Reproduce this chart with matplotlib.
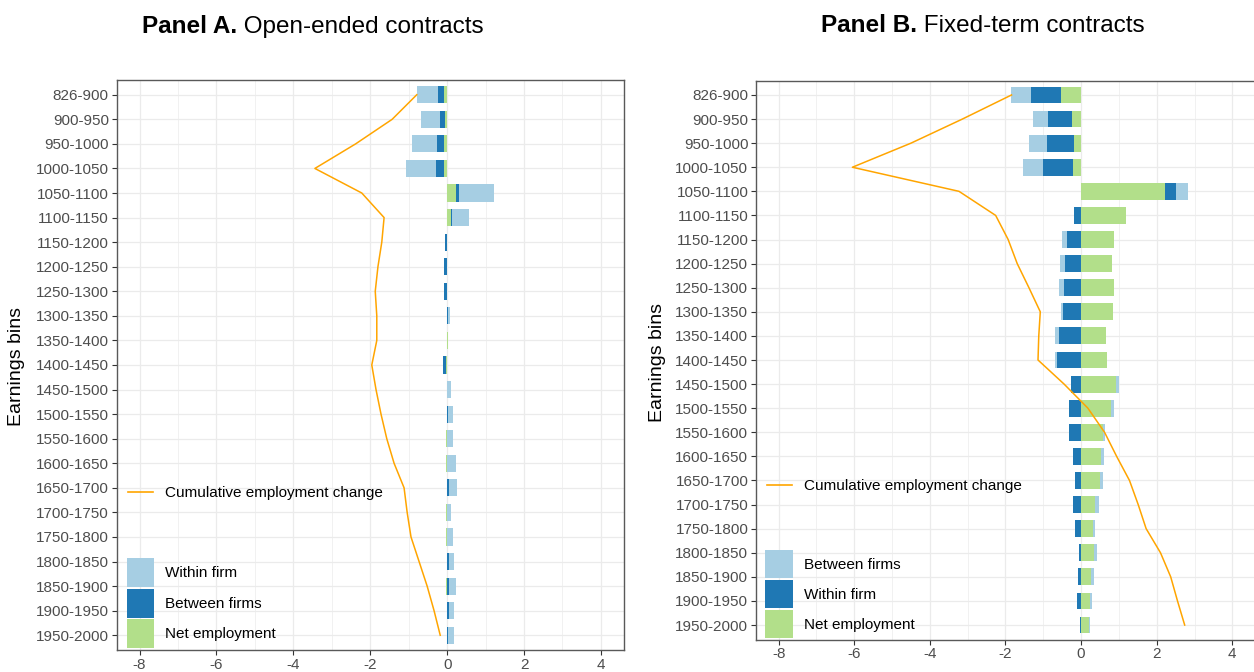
import matplotlib
matplotlib.use('Agg')
import matplotlib.pyplot as plt
from matplotlib import font_manager
from matplotlib.patches import Patch
from matplotlib.lines import Line2D
import numpy as np

plt.rcParams['font.family'] = ['Liberation Sans', 'DejaVu Sans']
plt.rcParams['axes.unicode_minus'] = False

bins = ['826-900', '900-950', '950-1000', '1000-1050', '1050-1100', '1100-1150',
        '1150-1200', '1200-1250', '1250-1300', '1300-1350', '1350-1400', '1400-1450',
        '1450-1500', '1500-1550', '1550-1600', '1600-1650', '1650-1700', '1700-1750',
        '1750-1800', '1800-1850', '1850-1900', '1900-1950', '1950-2000']

# Panel A: open-ended contracts
open_within = [-0.55, -0.49, -0.64, -0.77, 0.92, 0.43, 0.00, -0.01, 0.00, 0.07, 0.00, 0.00,
               0.10, 0.11, 0.15, 0.22, 0.22, 0.10, 0.15, 0.15, 0.20, 0.15, 0.16]
open_between = [-0.16, -0.13, -0.19, -0.21, 0.06, 0.04, -0.06, -0.07, -0.07, 0.01, 0.00, -0.07,
                0.00, 0.03, 0.00, 0.00, 0.04, 0.00, 0.00, 0.04, 0.04, 0.04, 0.01]
open_net = [-0.07, -0.05, -0.08, -0.08, 0.24, 0.09, 0.00, 0.00, 0.00, 0.00, 0.03, -0.03,
            0.00, 0.00, -0.03, -0.03, 0.00, -0.03, -0.04, 0.00, -0.02, 0.00, 0.00]
open_cum = [-0.79, -1.43, -2.38, -3.44, -2.22, -1.64, -1.70, -1.80, -1.87, -1.83, -1.83, -1.96,
            -1.85, -1.72, -1.57, -1.38, -1.12, -1.04, -0.94, -0.73, -0.52, -0.34, -0.18]

# Panel B: fixed-term contracts
fixed_between = [-0.52, -0.40, -0.46, -0.55, 0.34, 0.00, -0.13, -0.14, -0.12, -0.05, -0.10, -0.05,
                 0.08, 0.07, 0.05, 0.07, 0.08, 0.12, 0.06, 0.08, 0.08, 0.07, 0.03]
fixed_within = [-0.80, -0.62, -0.71, -0.79, 0.29, -0.19, -0.38, -0.42, -0.46, -0.48, -0.58, -0.64,
                -0.27, -0.31, -0.33, -0.22, -0.17, -0.21, -0.17, -0.05, -0.07, -0.12, -0.04]
fixed_net = [-0.53, -0.25, -0.20, -0.21, 2.21, 1.20, 0.86, 0.82, 0.86, 0.85, 0.65, 0.68,
             0.92, 0.79, 0.58, 0.53, 0.49, 0.36, 0.32, 0.34, 0.26, 0.23, 0.21]
fixed_cum = [-1.84, -3.14, -4.50, -6.05, -3.23, -2.26, -1.93, -1.69, -1.38, -1.08, -1.12, -1.14,
             -0.45, 0.18, 0.62, 0.94, 1.28, 1.51, 1.72, 2.10, 2.37, 2.55, 2.74]

LIGHT = '#A6CEE3'
DARK = '#1F78B4'
GREEN = '#B2DF8A'
ORANGE = '#FFA500'

W, H = 1254, 672
fig = plt.figure(figsize=(W / 100, H / 100), dpi=100)

try:
    font_manager.findfont('Liberation Sans Narrow', fallback_to_default=False)
    title_font = 'Liberation Sans Narrow'
    title_size = 21
except Exception:
    title_font = 'Liberation Sans'
    title_size = 17.5


def px_axes(left, right, top, bottom):
    return fig.add_axes([left / W, 1 - bottom / H, (right - left) / W, (bottom - top) / H])


def draw_panel(ax, series, colors, cum):
    y = np.arange(len(bins))
    pos = np.zeros(len(bins))
    neg = np.zeros(len(bins))
    # stack outward from zero: net first, then dark, then light
    for vals, c in zip(series, colors):
        v = np.array(vals)
        base = np.where(v >= 0, pos, neg)
        ax.barh(y, v, left=base, height=0.7, color=c, linewidth=0, zorder=2)
        pos = pos + np.where(v >= 0, v, 0)
        neg = neg + np.where(v < 0, v, 0)
    ax.plot(cum, y, color=ORANGE, lw=1.1, zorder=3)

    ax.set_xlim(-8.6, 4.6)
    ax.set_ylim(len(bins) - 0.4, -0.6)
    ax.set_yticks(y)
    ax.set_yticklabels(bins)
    ax.set_xticks(np.arange(-8, 5, 2))
    ax.set_xticklabels([str(v) for v in range(-8, 5, 2)])
    ax.set_xticks(np.arange(-7, 4, 2), minor=True)
    ax.set_axisbelow(True)
    ax.grid(True, which='major', color='#EBEBEB', lw=0.9, zorder=0)
    ax.grid(True, which='minor', axis='x', color='#EBEBEB', lw=0.5, zorder=0)
    ax.tick_params(axis='both', which='major', length=3.5, width=0.8, color='#333333',
                   labelsize=11, labelcolor='#4D4D4D', pad=2)
    ax.tick_params(axis='both', which='minor', length=0)
    for s in ax.spines.values():
        s.set_color('#595959')
        s.set_linewidth(1.0)


def add_legends(ax, line_xy, bar_xy, labels, patch_h, gap):
    fs = 11
    fs_px = fs * 100 / 72
    line_leg = ax.legend([Line2D([], [], color=ORANGE, lw=1.2)], ['Cumulative employment change'],
                         loc='center left', bbox_to_anchor=(line_xy[0] / W, 1 - line_xy[1] / H),
                         bbox_transform=fig.transFigure, frameon=False, fontsize=fs,
                         borderpad=0, borderaxespad=0, handlelength=25 / fs_px,
                         handletextpad=12 / fs_px)
    ax.add_artist(line_leg)
    # legend patch height = 0.65*fs*hh + 0.245*fs (points)
    patch_pt = patch_h * 72 / 100
    hh = (patch_pt - 0.245 * fs) / (0.65 * fs)
    handles = [Patch(facecolor=c, edgecolor='none') for c in (LIGHT, DARK, GREEN)]
    ax.legend(handles, labels, loc='upper left',
              bbox_to_anchor=(bar_xy[0] / W, 1 - bar_xy[1] / H),
              bbox_transform=fig.transFigure, frameon=False, fontsize=fs,
              borderpad=0, borderaxespad=0, handlelength=27.5 / fs_px,
              handleheight=hh, labelspacing=gap / fs_px,
              handletextpad=11 / fs_px)


def panel_title(x, base, bold, rest):
    t1 = fig.text(x / W, 1 - base / H, bold, family=title_font, fontweight='bold',
                  fontsize=title_size, ha='left', va='baseline')
    fig.canvas.draw()
    bb = t1.get_window_extent()
    fig.text(bb.x1 / W, 1 - base / H, rest, family=title_font,
             fontsize=title_size, ha='left', va='baseline')


# Panel A
axA = px_axes(116.5, 624, 80, 650)
draw_panel(axA, [open_net, open_between, open_within], [GREEN, DARK, LIGHT], open_cum)
add_legends(axA, (128, 493), (126.5, 558),
            ['Within firm', 'Between firms', 'Net employment'], 29, 1.5)

# Panel B
axB = px_axes(756, 1255, 80.5, 639.5)
draw_panel(axB, [fixed_net, fixed_within, fixed_between], [GREEN, DARK, LIGHT], fixed_cum)
add_legends(axB, (767, 486), (765, 550),
            ['Between firms', 'Within firm', 'Net employment'], 28, 2)

fig.text(17 / W, 1 - 367 / H, 'Earnings bins', rotation=90, fontsize=14,
         ha='center', va='center')
fig.text(658 / W, 1 - 362 / H, 'Earnings bins', rotation=90, fontsize=14,
         ha='center', va='center')

panel_title(141.7, 33.3, 'Panel A.', ' Open-ended contracts')
panel_title(821, 32.5, 'Panel B.', ' Fixed-term contracts')

fig.savefig('out.png', dpi=100)
